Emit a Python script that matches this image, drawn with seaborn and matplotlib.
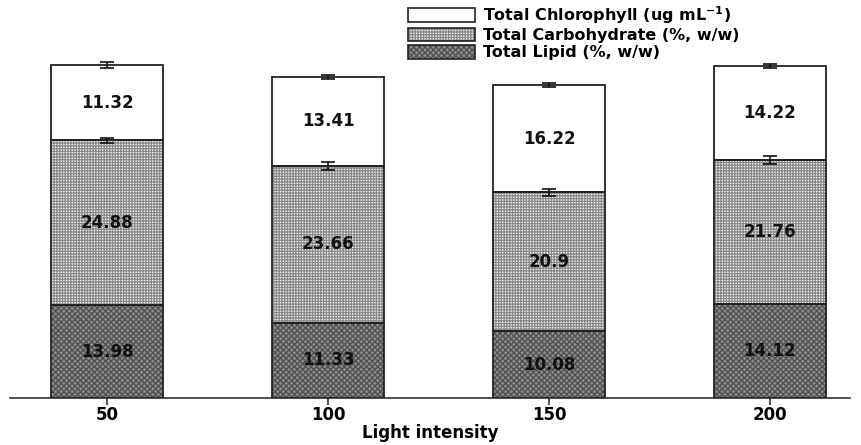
import numpy as np
import pandas as pd
import seaborn as sns
import matplotlib.pyplot as plt
from matplotlib.patches import Patch, Rectangle
from matplotlib.legend_handler import HandlerTuple

light = ['50', '100', '150', '200']
lipid = [13.98, 11.33, 10.08, 14.12]
carbo = [24.88, 23.66, 20.9, 21.76]
chl = [11.32, 13.41, 16.22, 14.22]
carbo_err = [0.4, 0.6, 0.6, 0.6]
chl_err = [0.4, 0.3, 0.3, 0.3]
labels = ['Total Chlorophyll (ug mL$^{\\mathbf{-1}}$)',
          'Total Carbohydrate (%, w/w)',
          'Total Lipid (%, w/w)']

plt.rcParams['font.family'] = ['DejaVu Sans']
plt.rcParams['hatch.linewidth'] = 0.9

fig = plt.figure(figsize=(8.62, 4.45), dpi=100)
ax = fig.add_axes([10/862, 47/445, 840/862, 398/445])

bw = 0.507
styles = [
    dict(color='#8a8a8a', hatch='xxxxxx', edgecolor='#505050'),   # lipid
    dict(color='#efefef', hatch='++++++', edgecolor='#8a8a8a'),   # carbo
    dict(color='white', hatch='', edgecolor='white'),              # chl
]
layers = [lipid, carbo, chl]
bottom = np.zeros(4)
for vals, st in zip(layers, styles):
    n_before = len(ax.patches)
    sns.barplot(x=light, y=vals, bottom=bottom, color=st['color'], width=bw,
                errorbar=None, ax=ax, linewidth=0, saturation=1)
    for p in ax.patches[n_before:]:
        p.set_hatch(st['hatch'])
        p.set_edgecolor(st['edgecolor'])
        p.set_linewidth(0)
    bottom = bottom + np.array(vals)

# outlines
for p in list(ax.patches):
    ax.add_patch(Rectangle(p.get_xy(), p.get_width(), p.get_height(),
                           fill=False, edgecolor='#222222', linewidth=1.3, zorder=3))

# labels
bottom = np.zeros(4)
for vals in layers:
    for i, v in enumerate(vals):
        ax.text(i, bottom[i] + v / 2, f'{v:g}', ha='center', va='center',
                fontsize=12, fontweight='bold', color='#111111', zorder=4)
    bottom = bottom + np.array(vals)

# error bars
x = np.arange(4)
c_top = np.array(lipid) + np.array(carbo)
t_top = c_top + np.array(chl)
ax.errorbar(x, c_top, yerr=carbo_err, fmt='none', ecolor='#111111',
            capsize=5, elinewidth=1.2, capthick=1.2, zorder=5)
ax.errorbar(x, t_top, yerr=chl_err, fmt='none', ecolor='#111111',
            capsize=5, elinewidth=1.2, capthick=1.2, zorder=5)

ax.set_xlim(-0.439, 3.362)
ax.set_ylim(0, 60)
ax.set_yticks([])
for s in ['top', 'right', 'left']:
    ax.spines[s].set_visible(False)
ax.spines['bottom'].set_linewidth(1.2)
ax.spines['bottom'].set_color('#333333')
ax.tick_params(axis='x', length=5, width=1.2, pad=1, labelsize=12, color='#333333')
for t in ax.get_xticklabels():
    t.set_fontweight('bold')
ax.set_xlabel('Light intensity', fontsize=12, fontweight='bold', labelpad=0)
ax.set_ylabel('')

handles = []
for st in [styles[2], styles[1], styles[0]]:
    handles.append((Patch(facecolor=st['color'], hatch=st['hatch'],
                          edgecolor=st['edgecolor'], linewidth=0),
                    Patch(fill=False, edgecolor='#222222', linewidth=1.2)))
fig.legend(handles, labels, handler_map={tuple: HandlerTuple(ndivide=1, pad=0)},
           loc='upper left', bbox_to_anchor=(408/862, 1 - 4/445),
           frameon=False, prop={'weight': 'bold', 'size': 11.5},
           handlelength=4.2, handleheight=0.95, labelspacing=0.12,
           borderpad=0, handletextpad=0.5, borderaxespad=0)

fig.savefig('out.png', dpi=100)
